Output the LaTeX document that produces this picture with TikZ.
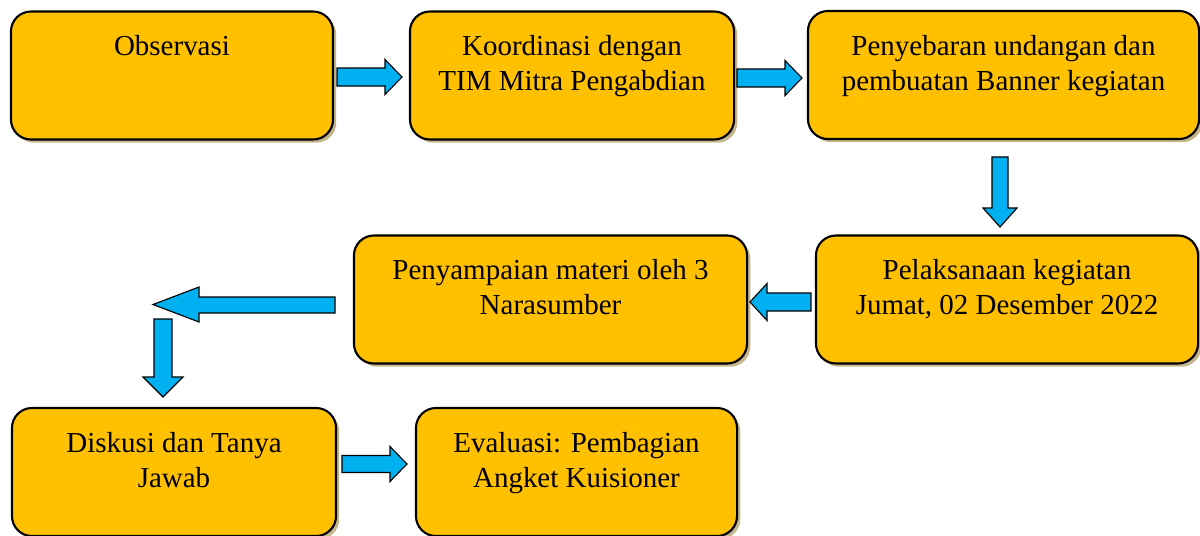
\documentclass[tikz,border=0pt]{standalone}
\usepackage{fontspec}
\setmainfont{Liberation Serif}
\usetikzlibrary{shadows}

\definecolor{boxgold}{HTML}{FFC000}
\definecolor{arrowblue}{HTML}{00B0F0}
\definecolor{shadowtan}{RGB}{196,182,140}

\tikzset{
  stepbox/.style={draw, line width=1.5pt, fill=boxgold, rounded corners=0.5cm,
    minimum height=3.2cm, inner sep=0pt,
    drop shadow={shadow xshift=0.08cm, shadow yshift=-0.08cm, fill=shadowtan, opacity=1}},
  steptext/.style={anchor=north, align=center, inner sep=0pt,
    font=\fontsize{20.6}{24.9}\selectfont},
  blockarrow/.style={draw, line width=0.8pt, fill=arrowblue, line join=miter}
}

\begin{document}
\begin{tikzpicture}[x=0.025cm, y=-0.025cm]
\useasboundingbox (0,0) rectangle (1200,535);

%% top row
\node[stepbox, minimum width=8.05cm] (obs) at (172,75.5) {};
\node[steptext] (obs-t) at ([yshift=-0.62cm]obs.north) {Observasi};

\node[stepbox, minimum width=8.1cm] (koord) at (572,75.5) {};
\node[steptext] (koord-t) at ([yshift=-0.62cm]koord.north) {Koordinasi dengan\\TIM Mitra Pengabdian};

\node[stepbox, minimum width=9.775cm] (sebar) at (1003.5,75) {};
\node[steptext] (sebar-t) at ([yshift=-0.62cm]sebar.north) {Penyebaran undangan dan\\pembuatan Banner kegiatan};

%% middle row
\node[stepbox, minimum width=9.55cm] (laksana) at (1007,299.5) {};
\node[steptext] (laksana-t) at ([yshift=-0.62cm]laksana.north) {Pelaksanaan kegiatan\\Jumat, 02 Desember 2022};

\node[stepbox, minimum width=9.825cm] (sampai) at (550.5,299.5) {};
\node[steptext] (sampai-t) at ([yshift=-0.62cm]sampai.north) {Penyampaian materi oleh 3\\Narasumber};

%% bottom row
\node[stepbox, minimum width=8.1cm] (diskusi) at (174,472) {};
\node[steptext] (diskusi-t) at ([yshift=-0.62cm]diskusi.north) {Diskusi dan Tanya\\Jawab};

\node[stepbox, minimum width=8.025cm] (eval) at (576.5,472) {};
\node[steptext] (eval-t) at ([yshift=-0.62cm]eval.north) {Evaluasi: Pembagian\\Angket Kuisioner};

%% block arrows
% obs -> koord
\draw[blockarrow] (337,68) -- (385,68) -- (385,59.5) -- (402,77) -- (385,94.5) -- (385,86) -- (337,86) -- cycle;
% koord -> sebar
\draw[blockarrow] (737,69) -- (785,69) -- (785,60.5) -- (802,78) -- (785,95.5) -- (785,87) -- (737,87) -- cycle;
% sebar -> laksana
\draw[blockarrow] (992,157) -- (1008,157) -- (1008,208) -- (1017,208) -- (1000,227) -- (983,208) -- (992,208) -- cycle;
% laksana -> sampai
\draw[blockarrow] (811,293) -- (767,293) -- (767,283.5) -- (750,302) -- (767,320.5) -- (767,311) -- (811,311) -- cycle;
% sampai -> left
\draw[blockarrow] (335,297) -- (199,297) -- (199,287) -- (153,304.5) -- (199,322) -- (199,313) -- (335,313) -- cycle;
% down -> diskusi
\draw[blockarrow] (154,319) -- (172,319) -- (172,377) -- (183,377) -- (163,397) -- (143,377) -- (154,377) -- cycle;
% diskusi -> eval
\draw[blockarrow] (342,455.5) -- (390,455.5) -- (390,446.5) -- (407,464) -- (390,481.5) -- (390,472.5) -- (342,472.5) -- cycle;

\end{tikzpicture}
\end{document}
